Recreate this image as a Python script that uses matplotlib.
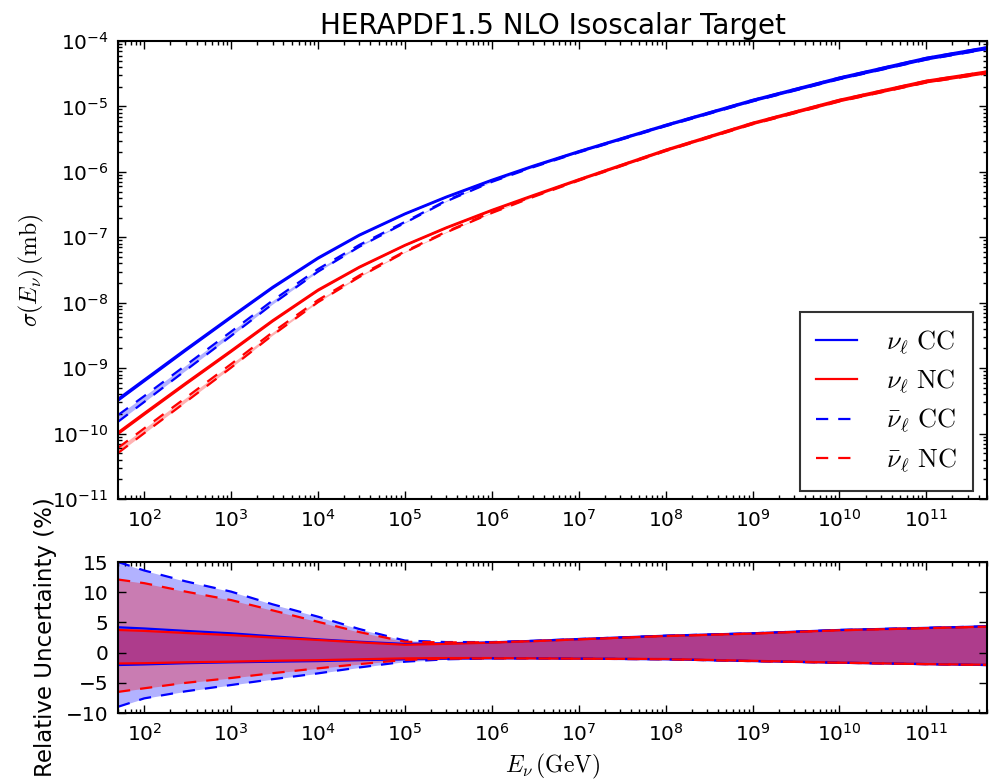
import numpy as np
import matplotlib
matplotlib.use("Agg")
import matplotlib.pyplot as plt
from matplotlib.ticker import LogLocator, NullFormatter, MultipleLocator

plt.rcParams['mathtext.fontset'] = 'cm'
plt.rcParams['font.family'] = ['DejaVu Sans']

# ---------------- data ----------------
energy_gev = [50, 1e2, 3e2, 1e3, 3e3, 1e4, 3e4, 1e5, 3e5, 1e6, 3e6, 1e7, 1e8, 1e9, 1e10, 1e11, 5e11]

# log10 of central cross sections (mb)
log_sigma_nu_cc = [-9.487, -9.192, -8.725, -8.223, -7.770, -7.320, -6.967, -6.643, -6.385, -6.129, -5.914, -5.694, -5.294, -4.914, -4.574, -4.274, -4.113]
log_sigma_nu_nc = [-9.997, -9.702, -9.240, -8.743, -8.280, -7.810, -7.457, -7.123, -6.855, -6.589, -6.364, -6.124, -5.674, -5.264, -4.914, -4.624, -4.483]
log_sigma_nubar_cc = [-9.777, -9.482, -9.005, -8.483, -8.000, -7.510, -7.132, -6.773, -6.445, -6.149, -5.924, -5.699, -5.297, -4.917, -4.577, -4.277, -4.116]
log_sigma_nubar_nc = [-10.267, -9.967, -9.495, -8.973, -8.480, -7.980, -7.597, -7.223, -6.920, -6.624, -6.379, -6.129, -5.677, -5.267, -4.917, -4.627, -4.486]

# relative uncertainties (%)
unc_nu_cc_up = [4.2, 4.0, 3.6, 3.2, 2.7, 2.2, 1.8, 1.45, 1.55, 1.7, 1.95, 2.25, 2.8, 3.2, 3.75, 4.1, 4.35]
unc_nu_cc_lo = [-2.05, -1.95, -1.75, -1.6, -1.5, -1.4, -1.25, -1.1, -1.0, -0.95, -0.95, -1.0, -1.1, -1.4, -1.67, -1.9, -2.05]
unc_nu_nc_up = [3.75, 3.6, 3.25, 2.9, 2.5, 2.1, 1.7, 1.3, 1.45, 1.65, 1.9, 2.2, 2.75, 3.15, 3.7, 4.05, 4.3]
unc_nu_nc_lo = [-1.8, -1.75, -1.6, -1.5, -1.35, -1.25, -1.1, -0.95, -0.9, -0.9, -0.95, -1.0, -1.05, -1.35, -1.65, -1.9, -2.0]
unc_nubar_cc_up = [15.0, 13.6, 11.8, 10.1, 8.0, 5.95, 3.9, 2.0, 1.75, 1.75, 1.95, 2.25, 2.8, 3.2, 3.75, 4.1, 4.35]
unc_nubar_cc_lo = [-8.96, -7.57, -6.4, -5.36, -4.4, -3.43, -2.45, -1.5, -1.1, -0.95, -0.95, -1.0, -1.1, -1.4, -1.67, -1.9, -2.05]
unc_nubar_nc_up = [12.1, 11.5, 10.1, 8.7, 7.0, 5.1, 3.4, 1.8, 1.7, 1.7, 1.9, 2.2, 2.75, 3.15, 3.7, 4.05, 4.3]
unc_nubar_nc_lo = [-6.5, -5.9, -5.0, -4.2, -3.4, -2.6, -1.9, -1.2, -1.0, -0.95, -0.95, -1.0, -1.1, -1.4, -1.67, -1.9, -2.05]

labels = [r'$\nu_\ell\ \mathrm{CC}$', r'$\nu_\ell\ \mathrm{NC}$',
          r'$\bar{\nu}_\ell\ \mathrm{CC}$', r'$\bar{\nu}_\ell\ \mathrm{NC}$']

# ---------------- figure ----------------
fig = plt.figure(figsize=(9.92, 7.81), dpi=100, facecolor='white')
ax1 = fig.add_axes([0.119, 0.361, 0.876, 0.5865])
ax2 = fig.add_axes([0.119, 0.087, 0.876, 0.1934])

E = np.array(energy_gev)
dash = (0, (5.5, 4.5))
series = [
    (log_sigma_nu_cc, unc_nu_cc_up, unc_nu_cc_lo, 'b', '-'),
    (log_sigma_nu_nc, unc_nu_nc_up, unc_nu_nc_lo, 'r', '-'),
    (log_sigma_nubar_cc, unc_nubar_cc_up, unc_nubar_cc_lo, 'b', dash),
    (log_sigma_nubar_nc, unc_nubar_nc_up, unc_nubar_nc_lo, 'r', dash),
]

handles = []
for (ls_, up, lo, c, st), lab in zip(series, labels):
    s = 10.0 ** np.array(ls_)
    hi = s * (1 + np.array(up) / 100.0)
    low = s * (1 + np.array(lo) / 100.0)
    ax1.fill_between(E, low, hi, color=c, alpha=0.3, linewidth=0)
    h, = ax1.plot(E, hi, color=c, ls=st, lw=1.6, label=lab)
    ax1.plot(E, low, color=c, ls=st, lw=1.6)
    handles.append(h)
    ax2.fill_between(E, lo, up, color=c, alpha=0.3, linewidth=0)
    ax2.plot(E, up, color=c, ls=st, lw=1.6)
    ax2.plot(E, lo, color=c, ls=st, lw=1.6)

for ax in (ax1, ax2):
    ax.set_xscale('log')
    ax.set_xlim(50, 5e11)
    ax.xaxis.set_major_locator(LogLocator(base=10, numticks=20))
    ax.xaxis.set_minor_locator(LogLocator(base=10, subs=np.arange(2, 10), numticks=20))
    ax.xaxis.set_minor_formatter(NullFormatter())
    ax.tick_params(which='both', direction='in', top=True, right=True, labelsize=14.5, width=1)
    ax.tick_params(which='major', length=6, pad=7)
    ax.tick_params(which='minor', length=3)
    for sp in ax.spines.values():
        sp.set_linewidth(1.5)

ax1.set_yscale('log')
ax1.set_ylim(1e-11, 1e-4)
ax1.yaxis.set_major_locator(LogLocator(base=10, numticks=20))
ax1.yaxis.set_minor_locator(LogLocator(base=10, subs=np.arange(2, 10), numticks=20))
ax1.yaxis.set_minor_formatter(NullFormatter())
ax1.set_ylabel(r'$\sigma(E_\nu)\,(\mathrm{mb})$', fontsize=17, labelpad=4)
ax1.set_title('HERAPDF1.5 NLO Isoscalar Target', fontsize=20, pad=5)

ax2.set_ylim(-10, 15)
ax2.yaxis.set_major_locator(MultipleLocator(5))
ax2.set_ylabel('Relative Uncertainty (%)', fontsize=16.5, labelpad=6)
ax2.set_xlabel(r'$E_\nu\,(\mathrm{GeV})$', fontsize=17, labelpad=5)

leg = ax1.legend(handles=handles, loc='lower right', bbox_to_anchor=(0.984, 0.0175),
                 fontsize=19, frameon=True, fancybox=False, edgecolor='black',
                 handlelength=1.55, labelspacing=0.42, borderpad=0.62,
                 handletextpad=1.1, borderaxespad=0.0)
leg.get_frame().set_linewidth(1.5)

fig.savefig('out.png', dpi=100, facecolor='white')
